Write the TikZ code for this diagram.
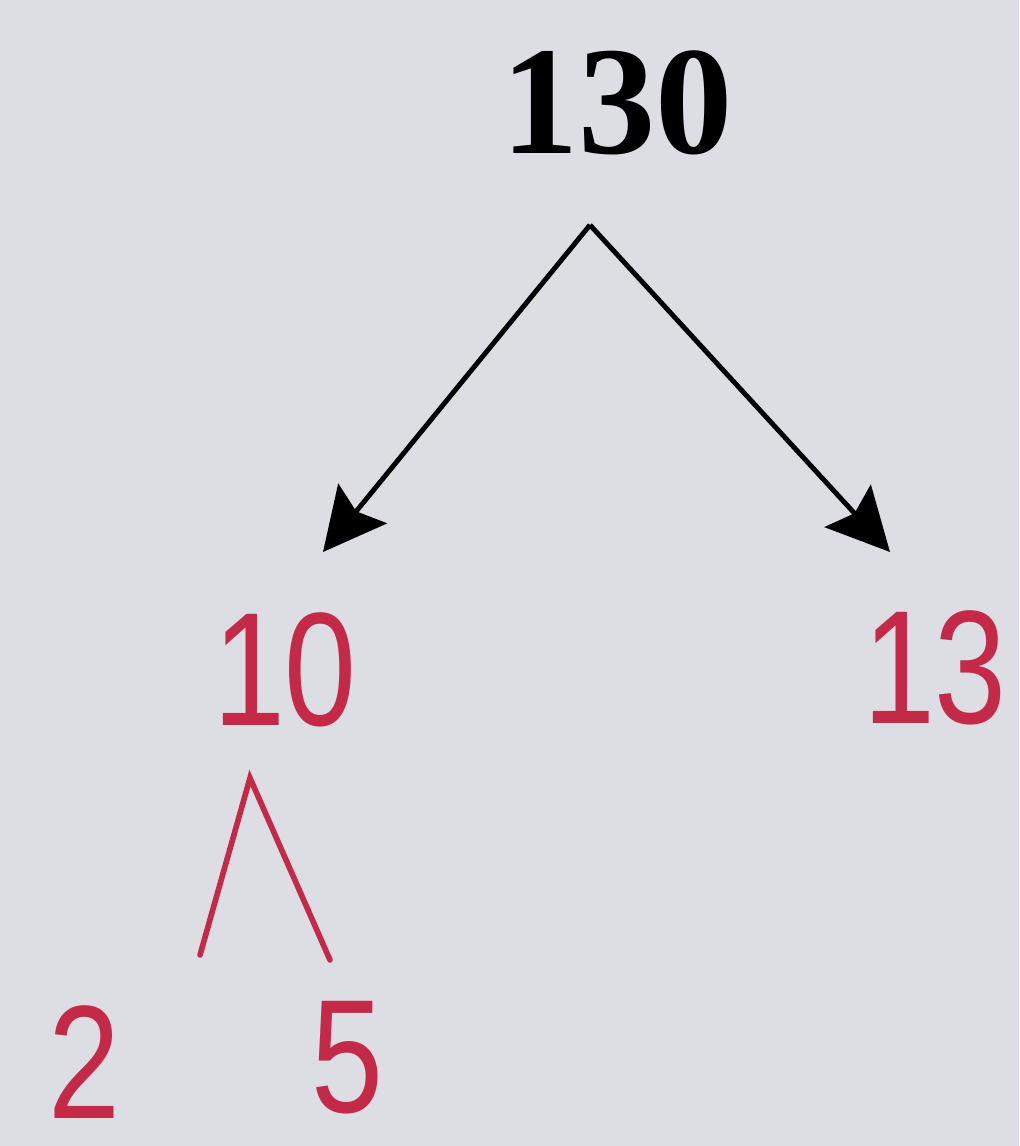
\documentclass[tikz,border=0pt]{standalone}
\usepackage{fontspec}
\setmainfont{Liberation Serif}
\newfontfamily\handfont[FakeStretch=0.8]{Liberation Sans}
\usetikzlibrary{arrows.meta, positioning}
\definecolor{paper}{RGB}{221,222,227}
\definecolor{pen}{RGB}{196,42,72}

\begin{document}
\begin{tikzpicture}[x=0.02cm, y=-0.02cm,
  top/.style={font=\bfseries\fontsize{88}{92}\selectfont, text=black, inner sep=0pt},
  fac/.style={font=\handfont\fontsize{92}{96}\selectfont, text=pen, inner sep=0pt},
  arr/.style={-{Stealth[length=1.25cm, width=1.25cm, inset=0.2cm]}, line width=2.8pt, black},
  split/.style={line width=3.2pt, pen, line cap=round}
]
\fill[paper] (0,0) rectangle (1019,1146);
\useasboundingbox (0,0) rectangle (1019,1146);
% numbers
\node[top] (n130) at (617,103) {130};
\node[fac] (n10)  at (285,670) {10};
\node[fac] (n13)  at (935,668) {13};
\node[fac] (n2)   at (84,1062) {2};
\node[fac] (n5)   at (347,1058) {5};
% arrow ends
\coordinate (apex) at (590,225);
\coordinate (tipl) at (323,552);
\coordinate (tipr) at (890,552);
\draw[arr] (apex) -- (tipl);
\draw[arr] (apex) -- (tipr);
% split of 10
\coordinate (peak) at (250,778);
\coordinate (legl) at (200,955);
\coordinate (legr) at (330,960);
\draw[split] (legl) -- (peak) -- (legr);
\end{tikzpicture}
\end{document}
